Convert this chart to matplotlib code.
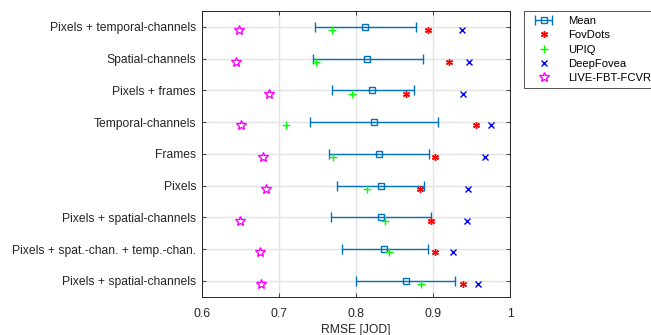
import matplotlib
matplotlib.use("Agg")
import matplotlib.pyplot as plt
from matplotlib.legend_handler import HandlerErrorbar
import numpy as np

plt.rcParams['font.family'] = ['Liberation Sans', 'DejaVu Sans']

categories = ["Pixels + temporal-channels", "Spatial-channels", "Pixels + frames",
              "Temporal-channels", "Frames", "Pixels", "Pixels + spatial-channels",
              "Pixels + spat.-chan. + temp.-chan.", "Pixels + spatial-channels"]
mean_vals = [0.812, 0.815, 0.821, 0.823, 0.830, 0.832, 0.833, 0.837, 0.865]
ci_low = [0.747, 0.744, 0.769, 0.740, 0.765, 0.776, 0.768, 0.782, 0.800]
ci_high = [0.878, 0.887, 0.875, 0.906, 0.895, 0.888, 0.897, 0.894, 0.929]
fovdots = [0.893, 0.921, 0.865, 0.956, 0.903, 0.883, 0.898, 0.903, 0.939]
upiq = [0.769, 0.748, 0.795, 0.709, 0.771, 0.814, 0.838, 0.843, 0.884]
deepfovea = [0.938, 0.947, 0.939, 0.975, 0.968, 0.945, 0.944, 0.926, 0.958]
live = [0.648, 0.645, 0.687, 0.651, 0.679, 0.684, 0.650, 0.676, 0.677]
xticks = [0.6, 0.7, 0.8, 0.9, 1.0]
xtick_labels = ["0.6", "0.7", "0.8", "0.9", "1"]

n = len(categories)
y = np.arange(n, 0, -1).astype(float)
off = 0.1

fig = plt.figure(figsize=(6.51, 3.35), dpi=100)
ax = fig.add_axes([0.3098, 0.1143, 0.4736, 0.8527])

blue = '#0072BD'
m = np.array(mean_vals)
xerr = np.vstack([m - np.array(ci_low), np.array(ci_high) - m])
h_mean = ax.errorbar(m, y, xerr=xerr, fmt='s', color=blue, mfc='none', mec=blue, ms=5,
                     capsize=3.5, elinewidth=1.0, capthick=1.2, mew=1.0, label='Mean', zorder=3)
h_fov, = ax.plot(fovdots, y - off, ls='none', marker=(6, 2, 0), color='red', ms=5, mew=1.0,
                 label='FovDots', zorder=4)
h_upiq, = ax.plot(upiq, y - off, ls='none', marker='+', color='#00FF00', ms=6, mew=1.0,
                  label='UPIQ', zorder=4)
h_deep, = ax.plot(deepfovea, y - off, ls='none', marker='x', color='blue', ms=4.5, mew=1.0,
                  label='DeepFovea', zorder=4)
h_live, = ax.plot(live, y - off, ls='none', marker='*', color='magenta', mfc='none', ms=7, mew=1.0,
                  label='LIVE-FBT-FCVR', zorder=4)

ax.set_xlim(0.6, 1.0)
ax.set_ylim(0.5, n + 0.5)
ax.set_xticks(xticks)
ax.set_xticklabels(xtick_labels)
ax.set_yticks(y)
ax.set_yticklabels(categories)
ax.set_xlabel("RMSE [JOD]", fontsize=8.7, color='#262626', labelpad=3)
ax.tick_params(axis='both', direction='in', top=True, right=True, labelsize=8.7,
               colors='#262626', length=3, width=0.6, pad=4)
ax.tick_params(axis='x', pad=8)
ax.grid(True, color='#e3e3e3', lw=1.0, zorder=0)
ax.set_axisbelow(True)
for s in ax.spines.values():
    s.set_color('#262626')
    s.set_linewidth(0.7)

leg = fig.legend([h_mean, h_fov, h_upiq, h_deep, h_live],
                 ['Mean', 'FovDots', 'UPIQ', 'DeepFovea', 'LIVE-FBT-FCVR'],
                 loc='upper left', bbox_to_anchor=(524/651, 1 - 11/335), fontsize=8.1,
                 frameon=True, fancybox=False, edgecolor='#262626', borderpad=0.45,
                 labelspacing=0.38, handlelength=2.6, handletextpad=0.9, borderaxespad=0,
                 handler_map={type(h_mean): HandlerErrorbar(xerr_size=0.75)})
leg.get_frame().set_linewidth(0.7)

fig.savefig("out.png", dpi=100)
